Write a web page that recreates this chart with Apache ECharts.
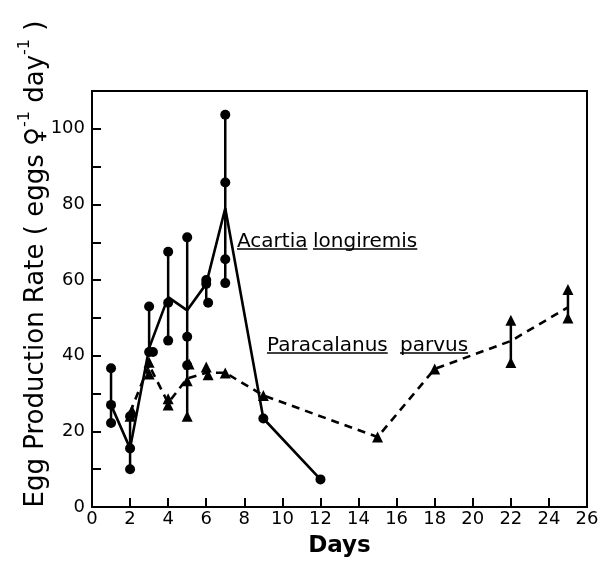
<!DOCTYPE html>
<html><head><meta charset="utf-8">
<script src="https://cdn.jsdelivr.net/npm/echarts@6/dist/echarts.min.js"></script>
<style>html,body{margin:0;padding:0;background:#fff}#c{width:605px;height:563px}</style>
</head><body><div id="c"></div>
<script>
// ---- data ----
const xTickValues = [0,2,4,6,8,10,12,14,16,18,20,22,24,26];
const yTickLabels = [0,20,40,60,80,100];

// Acartia longiremis (circles, solid line through means)
const acartiaDays = [1, 2, 3, 4, 5, 6, 7, 9, 12];
const acartiaMean = [27, 15.5, 42, 55.5, 52, 59, 79, 23.4, 7.3];
const acartiaObsDay = [1, 1, 1, 2, 2, 2, 3, 3, 3.2, 4, 4, 4, 5, 5, 5, 6, 6, 6.1, 7, 7, 7, 7, 9, 12];
const acartiaObsVal = [36.7, 27, 22.2, 24, 15.5, 10, 53, 41, 41, 67.5, 54, 44, 71.3, 45, 37.5, 60, 59, 54, 103.7, 85.8, 65.5, 59.2, 23.4, 7.3];
const acartiaBarDay = [1, 2, 3, 4, 5, 6, 7];
const acartiaBarLow = [22.2, 10, 41, 44, 37.5, 54, 59.2];
const acartiaBarHigh = [36.7, 24, 53, 67.5, 71.3, 60, 103.7];

// Paracalanus parvus (triangles, dashed line through means)
const paraDays = [2, 3, 4, 5, 6, 7, 9, 15, 18, 22, 25];
const paraMean = [25, 37.5, 27.5, 34, 35.5, 35.5, 29.5, 18.5, 36.5, 43.9, 52.8];
const paraObsDay = [2, 2.1, 3, 3, 4, 4, 5.1, 5, 5, 6, 6.1, 7, 9, 15, 18, 22, 22, 25, 25];
const paraObsVal = [24, 25.5, 38.3, 35.2, 28.6, 27, 37.8, 33.4, 24, 37, 35, 35.4, 29.5, 18.5, 36.5, 49.4, 38.2, 57.5, 50];
const paraBarDay = [2, 5, 22, 25];
const paraBarLow = [24, 24, 38.2, 50];
const paraBarHigh = [25.5, 37.8, 49.4, 57.5];

const zip2 = (a, b) => a.map((v, i) => [v, b[i]]);
const zip3 = (a, b, c) => a.map((v, i) => [v, b[i], c[i]]);

const FONT = 'DejaVu Sans';
const chart = echarts.init(document.getElementById('c'), null, {renderer: 'canvas'});

function errBar(params, api) {
  const x = api.value(0), lo = api.value(1), hi = api.value(2);
  const p1 = api.coord([x, lo]), p2 = api.coord([x, hi]);
  return {type: 'line', shape: {x1: p1[0], y1: p1[1], x2: p2[0], y2: p2[1]},
          style: {stroke: '#000', lineWidth: 2.5}};
}

const measure = (() => {
  const ctx = document.createElement('canvas').getContext('2d');
  return (t, size) => { ctx.font = size + 'px "' + FONT + '"'; return ctx.measureText(t).width; };
})();

// word with underline; baseline at y
function wordU(text, x, baseline, size) {
  const w = measure(text, size);
  return [
    {type: 'text', x: x, y: baseline + Math.round(size * 0.24), style: {text: text, font: size + 'px "' + FONT + '"', fill: '#000', verticalAlign: 'bottom'}},
    {type: 'line', shape: {x1: x, y1: baseline + 2, x2: x + w, y2: baseline + 2}, style: {stroke: '#000', lineWidth: 1.6}}
  ];
}

const ANN = 20;
const graphics = [].concat(
  wordU('Acartia', 237, 247, ANN),
  wordU('longiremis', 313, 247, ANN),
  wordU('Paracalanus', 267, 351, ANN),
  wordU('parvus', 400, 351, ANN),
  [{
    type: 'text', x: 33, y: 264, rotation: Math.PI / 2,
    style: {
      text: '{n|Egg Production Rate ( eggs ♀}{s|-1}{n| day}{s|-1}{n| )}',
      align: 'center', verticalAlign: 'middle',
      rich: {
        n: {fontFamily: FONT, fontSize: 26, fill: '#000', verticalAlign: 'bottom', lineHeight: 32},
        s: {fontFamily: FONT, fontSize: 16, fill: '#000', verticalAlign: 'top', lineHeight: 32}
      }
    }
  }]
);

chart.setOption({
  animation: false,
  backgroundColor: '#fff',
  grid: {left: 92, right: 18, top: 91, bottom: 54, show: true, borderColor: '#000', borderWidth: 2, backgroundColor: 'transparent'},
  xAxis: {
    type: 'value', min: 0, max: 26, interval: 2,
    name: 'Days', nameLocation: 'middle', nameGap: 28,
    nameTextStyle: {fontFamily: FONT, fontSize: 23, fontWeight: 'bold', color: '#000'},
    axisLine: {lineStyle: {color: '#000', width: 2}},
    axisTick: {inside: true, length: 9, lineStyle: {color: '#000', width: 2}},
    axisLabel: {fontFamily: FONT, fontSize: 18, color: '#000', margin: 3,
      formatter: v => xTickValues.includes(v) ? String(v) : ''},
    splitLine: {show: false}
  },
  yAxis: {
    type: 'value', min: 0, max: 110, interval: 10,
    axisLine: {lineStyle: {color: '#000', width: 2}},
    axisTick: {inside: true, length: 9, lineStyle: {color: '#000', width: 2}},
    axisLabel: {fontFamily: FONT, fontSize: 18, color: '#000', margin: 7,
      formatter: v => yTickLabels.includes(v) ? String(v) : ''},
    splitLine: {show: false}
  },
  graphic: graphics,
  series: [
    {type: 'custom', renderItem: errBar, data: zip3(acartiaBarDay, acartiaBarLow, acartiaBarHigh), encode: {x: 0, y: [1, 2]}, z: 2},
    {type: 'custom', renderItem: errBar, data: zip3(paraBarDay, paraBarLow, paraBarHigh), encode: {x: 0, y: [1, 2]}, z: 2},
    {type: 'line', data: zip2(acartiaDays, acartiaMean), showSymbol: false, symbol: 'none',
     lineStyle: {color: '#000', width: 2.6, type: 'solid'}, z: 3},
    {type: 'line', data: zip2(paraDays, paraMean), showSymbol: false, symbol: 'none',
     lineStyle: {color: '#000', width: 2.6, type: [8, 6]}, z: 3},
    {type: 'scatter', data: zip2(acartiaObsDay, acartiaObsVal), symbol: 'circle', symbolSize: 10,
     itemStyle: {color: '#000', opacity: 1}, z: 4},
    {type: 'scatter', data: zip2(paraObsDay, paraObsVal), symbol: 'triangle', symbolSize: 11,
     itemStyle: {color: '#000', opacity: 1}, z: 4}
  ]
});
</script></body></html>
